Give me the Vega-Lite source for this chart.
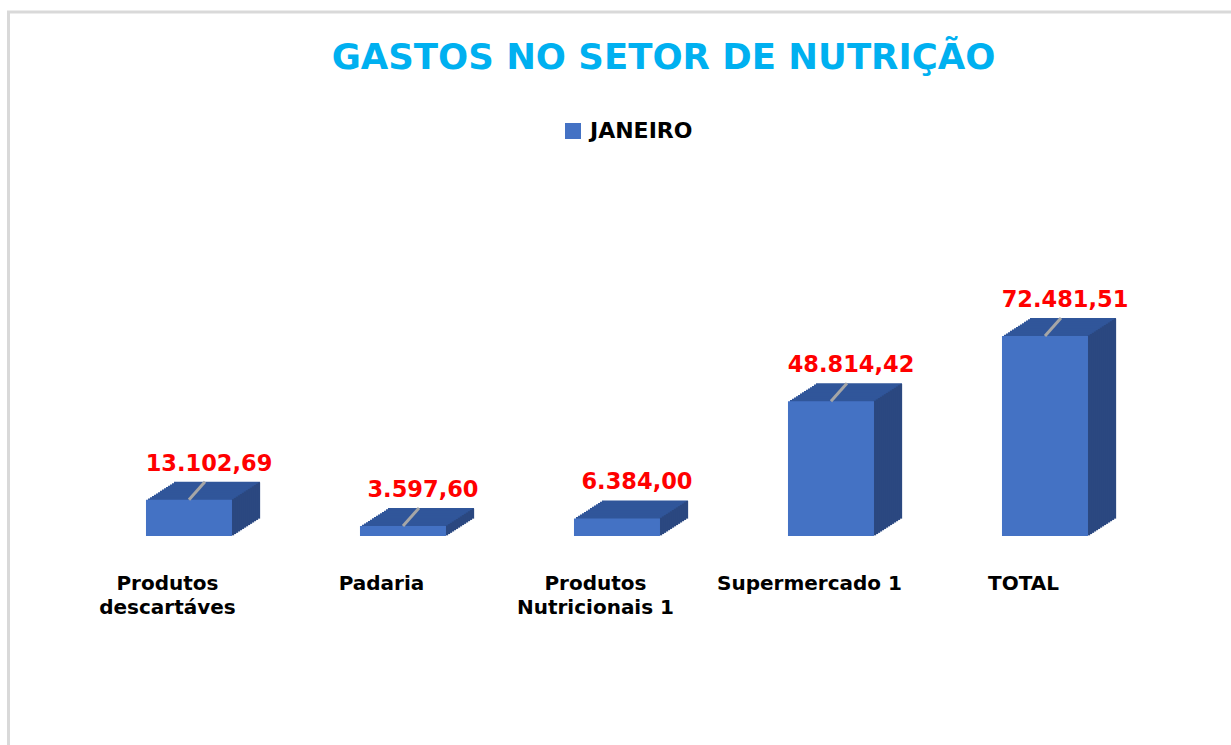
{
  "$schema": "https://vega.github.io/schema/vega-lite/v6.json",
  "width": 1240,
  "height": 750,
  "autosize": {"type": "none"},
  "padding": {"left": 8.5, "top": 12, "right": -17.5, "bottom": -17},
  "background": "white",
  "title": {
    "text": "GASTOS NO SETOR DE NUTRIÇÃO",
    "font": "DejaVu Sans",
    "fontSize": 35.5,
    "fontWeight": "bold",
    "color": "#00B0F0",
    "anchor": "middle",
    "frame": "group",
    "offset": -92,
    "dx": 35,
    "baseline": "alphabetic"
  },
  "data": {
    "values": [
      {"cat": "Produtos descartáves", "value": 13102.69, "serie": "JANEIRO"},
      {"cat": "Padaria", "value": 3597.60, "serie": "JANEIRO"},
      {"cat": "Produtos Nutricionais 1", "value": 6384.00, "serie": "JANEIRO"},
      {"cat": "Supermercado 1", "value": 48814.42, "serie": "JANEIRO"},
      {"cat": "TOTAL", "value": 72481.51, "serie": "JANEIRO"}
    ]
  },
  "encoding": {
    "x": {
      "field": "cat",
      "type": "nominal",
      "sort": null,
      "scale": {"type": "point", "padding": 0.8972, "align": 0.47},
      "axis": {
        "title": null,
        "orient": "bottom",
        "offset": -189,
        "ticks": false,
        "domain": false,
        "grid": false,
        "labelAngle": 0,
        "labelPadding": 0,
        "labelOffset": -22,
        "labelLimit": 0,
        "labelOverlap": false,
        "labelBaseline": "top",
        "labelFont": "DejaVu Sans",
        "labelFontSize": 20,
        "labelFontWeight": "bold",
        "labelColor": "#000000",
        "labelLineHeight": 24,
        "labelExpr": "indexof(datum.label, 'Produtos ') == 0 ? ['Produtos', substring(datum.label, 9)] : datum.label"
      }
    },
    "y": {
      "field": "value",
      "type": "quantitative",
      "scale": {"domain": [-81904, 189902], "nice": false, "zero": false},
      "axis": null
    }
  },
  "layer": [
    {"mark": {"type": "bar", "width": 86, "color": "#30569A", "xOffset": 28, "x2Offset": 28, "yOffset": -18, "y2Offset": -18}},
    {"mark": {"type": "bar", "width": 86, "color": "#30569A", "xOffset": 26, "x2Offset": 26, "yOffset": -16.71, "y2Offset": -16.71}},
    {"mark": {"type": "bar", "width": 86, "color": "#30569A", "xOffset": 24, "x2Offset": 24, "yOffset": -15.43, "y2Offset": -15.43}},
    {"mark": {"type": "bar", "width": 86, "color": "#30569A", "xOffset": 22, "x2Offset": 22, "yOffset": -14.14, "y2Offset": -14.14}},
    {"mark": {"type": "bar", "width": 86, "color": "#30569A", "xOffset": 20, "x2Offset": 20, "yOffset": -12.86, "y2Offset": -12.86}},
    {"mark": {"type": "bar", "width": 86, "color": "#30569A", "xOffset": 18, "x2Offset": 18, "yOffset": -11.57, "y2Offset": -11.57}},
    {"mark": {"type": "bar", "width": 86, "color": "#30569A", "xOffset": 16, "x2Offset": 16, "yOffset": -10.29, "y2Offset": -10.29}},
    {"mark": {"type": "bar", "width": 86, "color": "#30569A", "xOffset": 14, "x2Offset": 14, "yOffset": -9, "y2Offset": -9}},
    {"mark": {"type": "bar", "width": 86, "color": "#30569A", "xOffset": 12, "x2Offset": 12, "yOffset": -7.71, "y2Offset": -7.71}},
    {"mark": {"type": "bar", "width": 86, "color": "#30569A", "xOffset": 10, "x2Offset": 10, "yOffset": -6.43, "y2Offset": -6.43}},
    {"mark": {"type": "bar", "width": 86, "color": "#30569A", "xOffset": 8, "x2Offset": 8, "yOffset": -5.14, "y2Offset": -5.14}},
    {"mark": {"type": "bar", "width": 86, "color": "#30569A", "xOffset": 6, "x2Offset": 6, "yOffset": -3.86, "y2Offset": -3.86}},
    {"mark": {"type": "bar", "width": 86, "color": "#30569A", "xOffset": 4, "x2Offset": 4, "yOffset": -2.57, "y2Offset": -2.57}},
    {"mark": {"type": "bar", "width": 86, "color": "#30569A", "xOffset": 2, "x2Offset": 2, "yOffset": -1.29, "y2Offset": -1.29}},
    {"mark": {"type": "bar", "width": 2.3, "color": "#2B4880", "xOffset": 44, "x2Offset": 44, "yOffset": -0.64, "y2Offset": -0.64}},
    {"mark": {"type": "bar", "width": 2.3, "color": "#2B4880", "xOffset": 46, "x2Offset": 46, "yOffset": -1.93, "y2Offset": -1.93}},
    {"mark": {"type": "bar", "width": 2.3, "color": "#2B4880", "xOffset": 48, "x2Offset": 48, "yOffset": -3.21, "y2Offset": -3.21}},
    {"mark": {"type": "bar", "width": 2.3, "color": "#2B4880", "xOffset": 50, "x2Offset": 50, "yOffset": -4.5, "y2Offset": -4.5}},
    {"mark": {"type": "bar", "width": 2.3, "color": "#2B4880", "xOffset": 52, "x2Offset": 52, "yOffset": -5.79, "y2Offset": -5.79}},
    {"mark": {"type": "bar", "width": 2.3, "color": "#2B4880", "xOffset": 54, "x2Offset": 54, "yOffset": -7.07, "y2Offset": -7.07}},
    {"mark": {"type": "bar", "width": 2.3, "color": "#2B4880", "xOffset": 56, "x2Offset": 56, "yOffset": -8.36, "y2Offset": -8.36}},
    {"mark": {"type": "bar", "width": 2.3, "color": "#2B4880", "xOffset": 58, "x2Offset": 58, "yOffset": -9.64, "y2Offset": -9.64}},
    {"mark": {"type": "bar", "width": 2.3, "color": "#2B4880", "xOffset": 60, "x2Offset": 60, "yOffset": -10.93, "y2Offset": -10.93}},
    {"mark": {"type": "bar", "width": 2.3, "color": "#2B4880", "xOffset": 62, "x2Offset": 62, "yOffset": -12.21, "y2Offset": -12.21}},
    {"mark": {"type": "bar", "width": 2.3, "color": "#2B4880", "xOffset": 64, "x2Offset": 64, "yOffset": -13.5, "y2Offset": -13.5}},
    {"mark": {"type": "bar", "width": 2.3, "color": "#2B4880", "xOffset": 66, "x2Offset": 66, "yOffset": -14.79, "y2Offset": -14.79}},
    {"mark": {"type": "bar", "width": 2.3, "color": "#2B4880", "xOffset": 68, "x2Offset": 68, "yOffset": -16.07, "y2Offset": -16.07}},
    {"mark": {"type": "bar", "width": 2.3, "color": "#2B4880", "xOffset": 70, "x2Offset": 70, "yOffset": -17.36, "y2Offset": -17.36}},
    {
      "mark": {"type": "bar", "width": 86},
      "encoding": {
        "color": {
          "field": "serie",
          "type": "nominal",
          "scale": {"range": ["#4472C4"]},
          "legend": {
            "orient": "none",
            "legendX": 553.5,
            "legendY": 108,
            "title": null,
            "symbolType": "square",
            "symbolSize": 256,
            "symbolStrokeWidth": 0,
            "labelFont": "DejaVu Sans",
            "labelFontSize": 22,
            "labelFontWeight": "bold",
            "labelColor": "#000000",
            "labelOffset": 6,
            "padding": 0
          }
        }
      }
    },
    {
      "transform": [{"filter": "datum.cat != 'Produtos Nutricionais 1'"}],
      "mark": {"type": "rule", "color": "#A6A6A6", "strokeWidth": 3, "xOffset": 0, "yOffset": 0, "x2Offset": 16, "y2Offset": -18},
      "encoding": {
        "x2": {"field": "cat"},
        "y2": {"field": "value"}
      }
    },
    {
      "mark": {"type": "text", "font": "DejaVu Sans", "fontSize": 22.5, "fontWeight": "bold", "color": "#FF0000", "align": "center", "baseline": "alphabetic", "dx": 20, "dy": -29},
      "encoding": {
        "text": {"field": "value", "type": "quantitative", "format": ",.2f"}
      }
    }
  ],
  "config": {
    "view": {"stroke": "#D9D9D9", "strokeWidth": 3},
    "locale": {"number": {"decimal": ",", "thousands": ".", "grouping": [3], "currency": ["R$", ""]}}
  }
}
